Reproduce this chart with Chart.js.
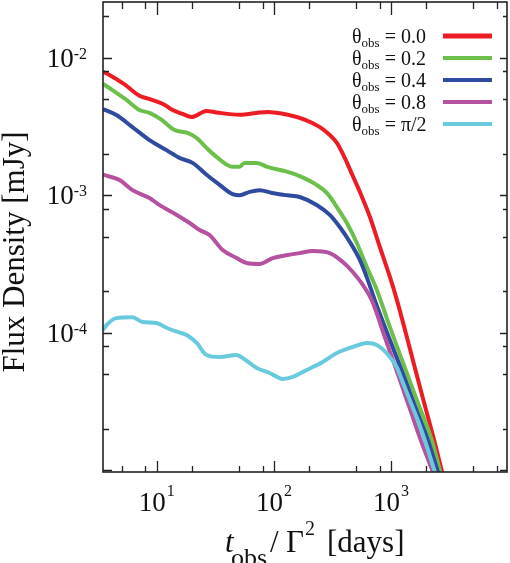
<!DOCTYPE html>
<html>
<head>
<meta charset="utf-8">
<script src="https://cdn.jsdelivr.net/npm/chart.js@4.4.0/dist/chart.umd.min.js"></script>
<style>
  html, body { margin: 0; padding: 0; background: #fff; }
  #wrap { width: 510px; height: 563px; }
</style>
</head>
<body>
<div id="wrap"><canvas id="fluxChart" width="510" height="563"></canvas></div>
<script>
// t_obs / Gamma^2 [days] and flux density [mJy]
const t00 = [3.47, 3.94, 5.3, 7.1, 8.7, 11.6, 13.4, 16.6, 19.8, 26.6, 32.4, 51, 71, 88, 131, 183, 247, 300, 345, 403, 472, 542, 661, 803, 979, 1124, 1452, 1841, 2333, 2733, 2850];
const f00 = [7.9e-3, 7.5e-3, 6.4e-3, 5.3e-3, 5.0e-3, 4.55e-3, 4.2e-3, 3.9e-3, 3.7e-3, 4.1e-3, 4.0e-3, 3.85e-3, 3.97e-3, 4.03e-3, 3.85e-3, 3.55e-3, 3.13e-3, 2.74e-3, 2.4e-3, 1.87e-3, 1.38e-3, 1.06e-3, 6.95e-4, 4.21e-4, 2.55e-4, 1.73e-4, 7.64e-5, 3.54e-5, 1.67e-5, 9.77e-6, 8.5e-6];

const t02 = [3.47, 4.18, 5.51, 7.11, 8.66, 11.0, 14.2, 18.3, 21.9, 26.6, 32.4, 44.4, 51, 56, 71, 88, 131, 166, 232, 283, 345, 420, 511, 622, 757, 979, 1315, 1698, 2224, 2636, 2760];
const f02 = [6.44e-3, 5.82e-3, 4.93e-3, 4.17e-3, 3.97e-3, 3.53e-3, 2.98e-3, 2.84e-3, 2.61e-3, 2.21e-3, 1.90e-3, 1.61e-3, 1.61e-3, 1.72e-3, 1.72e-3, 1.61e-3, 1.48e-3, 1.38e-3, 1.19e-3, 1.04e-3, 8.22e-4, 6.29e-4, 4.50e-4, 3.01e-4, 2.05e-4, 1.10e-4, 5.56e-5, 3.10e-5, 1.67e-5, 9.77e-6, 8.5e-6];

const t04 = [3.47, 4.52, 6.19, 8.66, 12.1, 15.6, 20.2, 26.6, 34.4, 44.4, 51, 62, 75.5, 96, 131, 166, 232, 300, 365, 445, 542, 634, 727, 979, 1315, 1600, 2066, 2514, 2640];
const f04 = [4.24e-3, 3.83e-3, 3.13e-3, 2.52e-3, 2.13e-3, 1.87e-3, 1.72e-3, 1.41e-3, 1.19e-3, 1.02e-3, 1.0e-3, 1.06e-3, 1.09e-3, 1.04e-3, 1.0e-3, 9.72e-4, 8.51e-4, 7.20e-4, 5.88e-4, 4.58e-4, 3.39e-4, 2.42e-4, 1.73e-4, 8.87e-5, 4.63e-5, 2.94e-5, 1.67e-5, 9.77e-6, 8.5e-6];

const t08 = [3.47, 4.80, 6.19, 8.66, 10.5, 14.8, 19.1, 23.2, 28.2, 36.5, 48.1, 58.5, 75.5, 97.7, 131, 166, 215, 300, 388, 472, 575, 686, 885, 1191, 1452, 1792, 2281, 2430];
const f08 = [1.41e-3, 1.29e-3, 1.09e-3, 9.56e-4, 8.51e-4, 7.20e-4, 6.29e-4, 5.60e-4, 5.15e-4, 4.00e-4, 3.50e-4, 3.22e-4, 3.17e-4, 3.50e-4, 3.68e-4, 3.80e-4, 3.93e-4, 3.80e-4, 3.27e-4, 2.77e-4, 2.23e-4, 1.73e-4, 9.33e-5, 4.55e-5, 2.80e-5, 1.67e-5, 9.77e-6, 8.5e-6];

const t90 = [3.47, 3.72, 4.52, 6.19, 7.55, 9.94, 12.1, 14.8, 18.0, 21.9, 26.6, 34.4, 48.1, 54.1, 71.3, 92, 119, 145, 191, 261, 345, 472, 622, 757, 916, 1117, 1258, 1445, 1692, 1941, 2371, 2500];
const f90 = [1.05e-4, 1.14e-4, 1.28e-4, 1.30e-4, 1.20e-4, 1.18e-4, 1.09e-4, 1.02e-4, 9.66e-5, 8.45e-5, 6.91e-5, 6.68e-5, 6.91e-5, 6.57e-5, 5.56e-5, 5.11e-5, 4.63e-5, 4.79e-5, 5.38e-5, 6.15e-5, 7.14e-5, 7.90e-5, 8.45e-5, 8.17e-5, 7.14e-5, 5.65e-5, 4.40e-5, 3.25e-5, 2.33e-5, 1.67e-5, 9.77e-6, 8.5e-6];

// legend values for theta_obs
const thetaLabels = ['0.0', '0.2', '0.4', '0.8', 'π/2'];

// tick positions
const xMajor = [10, 100, 1000];
const xMinor = [5, 8, 20, 50, 80, 200, 500, 800, 2000, 5000, 8000];
const yMajor = [1e-5, 1e-4, 1e-3, 1e-2];
const yMinor = [2e-5, 5e-5, 8e-5, 2e-4, 5e-4, 8e-4, 2e-3, 5e-3, 8e-3, 2e-2];

const colors = ['#ed1c24', '#6dbf4b', '#2f4b9f', '#b5519f', '#69c9dd'];
const serif = '"Liberation Serif", "DejaVu Serif", serif';

function pts(ts, fs) {
    return ts.map((t, i) => ({ x: t, y: fs[i] }));
}

// text runs, so sub/superscripts stay plain text
function drawRuns(ctx, x, y, runs) {
    runs.forEach(r => {
        ctx.font = r.font;
        const px = r.x !== undefined ? r.x : x;
        ctx.fillText(r.text, px, y + (r.dy || 0));
        x = px + ctx.measureText(r.text).width;
    });
    return x;
}

const frameTicks = {
    id: 'frameTicks',
    afterDraw(chart) {
        const { ctx, chartArea: a } = chart;
        const xs = chart.scales.x, ys = chart.scales.y;
        ctx.save();
        ctx.strokeStyle = '#222';
        ctx.fillStyle = '#111';
        ctx.lineWidth = 1.6;
        ctx.strokeRect(a.left, a.top, a.right - a.left, a.bottom - a.top);

        ctx.lineWidth = 1.3;
        ctx.beginPath();
        const xTick = (v, lb, lt) => {
            const p = Math.round(xs.getPixelForValue(v)) + 0.5;
            ctx.moveTo(p, a.bottom); ctx.lineTo(p, a.bottom - lb);
            ctx.moveTo(p, a.top); ctx.lineTo(p, a.top + lt);
        };
        const yTick = (v, ll, lr) => {
            const p = Math.round(ys.getPixelForValue(v)) + 0.5;
            ctx.moveTo(a.left, p); ctx.lineTo(a.left + ll, p);
            ctx.moveTo(a.right, p); ctx.lineTo(a.right - lr, p);
        };
        xMajor.forEach(v => xTick(v, 11, 13));
        xMinor.forEach(v => xTick(v, 6, 7));
        yMajor.forEach(v => yTick(v, 9, 7));
        yMinor.forEach(v => yTick(v, 6, 4));
        ctx.stroke();

        // tick labels
        ctx.textBaseline = 'alphabetic';
        ctx.textAlign = 'left';
        xMajor.forEach(v => {
            const e = String(Math.round(Math.log10(v)));
            ctx.font = '27px ' + serif;
            const w1 = ctx.measureText('10').width;
            ctx.font = '16px ' + serif;
            const w2 = ctx.measureText(e).width;
            const x0 = xs.getPixelForValue(v) - (w1 + w2 + 1) / 2;
            drawRuns(ctx, x0, 511, [
                { text: '10', font: '27px ' + serif },
                { text: e, font: '16px ' + serif, dy: -15, x: x0 + w1 + 1 }
            ]);
        });
        yMajor.filter(v => v > 1e-5).forEach(v => {
            const e = String(Math.round(Math.log10(v)));
            ctx.font = '27px ' + serif;
            const w1 = ctx.measureText('10').width;
            ctx.font = '16px ' + serif;
            const w2 = ctx.measureText(e).width;
            const yp = ys.getPixelForValue(v);
            const x0 = a.left - 16 - w2 - w1;
            drawRuns(ctx, x0, yp + 9, [
                { text: '10', font: '27px ' + serif },
                { text: e, font: '16px ' + serif, dy: -8 }
            ]);
        });

        // axis titles
        drawRuns(ctx, 225, 552, [
            { text: 't', font: 'italic 31px ' + serif, x: 225 },
            { text: 'obs', font: '26px ' + serif, dy: 14, x: 231 },
            { text: '/', font: '31px ' + serif, x: 270 },
            { text: 'Γ', font: '31px ' + serif, x: 286 },
            { text: '2', font: '20px ' + serif, dy: -17, x: 305 },
            { text: '[days]', font: '31px ' + serif, x: 327 }
        ]);

        ctx.save();
        ctx.translate(24, 252);
        ctx.rotate(-Math.PI / 2);
        ctx.textAlign = 'center';
        ctx.font = '31px ' + serif;
        ctx.fillText('Flux Density [mJy]', 0, 0);
        ctx.restore();

        // legend
        chart.data.datasets.forEach((ds, i) => {
            const rowY = 36 + i * 22;
            drawRuns(ctx, 352, rowY + 7, [
                { text: 'θ', font: '20px ' + serif },
                { text: 'obs', font: '13px ' + serif, dy: 4 },
                { text: ' = ' + thetaLabels[i], font: '20px ' + serif }
            ]);
            ctx.strokeStyle = ds.borderColor;
            ctx.lineWidth = i === 0 ? 5 : 4;
            ctx.beginPath();
            ctx.moveTo(443, rowY);
            ctx.lineTo(492, rowY);
            ctx.stroke();
        });
        ctx.restore();
    }
};

const series = [[t00, f00], [t02, f02], [t04, f04], [t08, f08], [t90, f90]];

const ctx = document.getElementById('fluxChart').getContext('2d');
const fluxChart = new Chart(ctx, {
    type: 'line',
    data: {
        datasets: series.map((s, i) => ({
            label: 'θobs = ' + thetaLabels[i],
            data: pts(s[0], s[1]),
            borderColor: colors[i],
            backgroundColor: colors[i],
            borderWidth: 4,
            pointRadius: 0,
            fill: false,
            cubicInterpolationMode: 'monotone',
            order: 5 - i
        }))
    },
    options: {
        responsive: false,
        animation: false,
        layout: { padding: { left: 103, right: 3, top: 2, bottom: 91 } },
        plugins: {
            legend: { display: false },
            tooltip: { enabled: false }
        },
        scales: {
            x: {
                type: 'logarithmic',
                display: false,
                bounds: 'data',
                min: 3.47,
                max: 9790
            },
            y: {
                type: 'logarithmic',
                display: false,
                bounds: 'data',
                min: 9.75e-6,
                max: 2.54e-2
            }
        }
    },
    plugins: [frameTicks]
});
</script>
</body>
</html>
